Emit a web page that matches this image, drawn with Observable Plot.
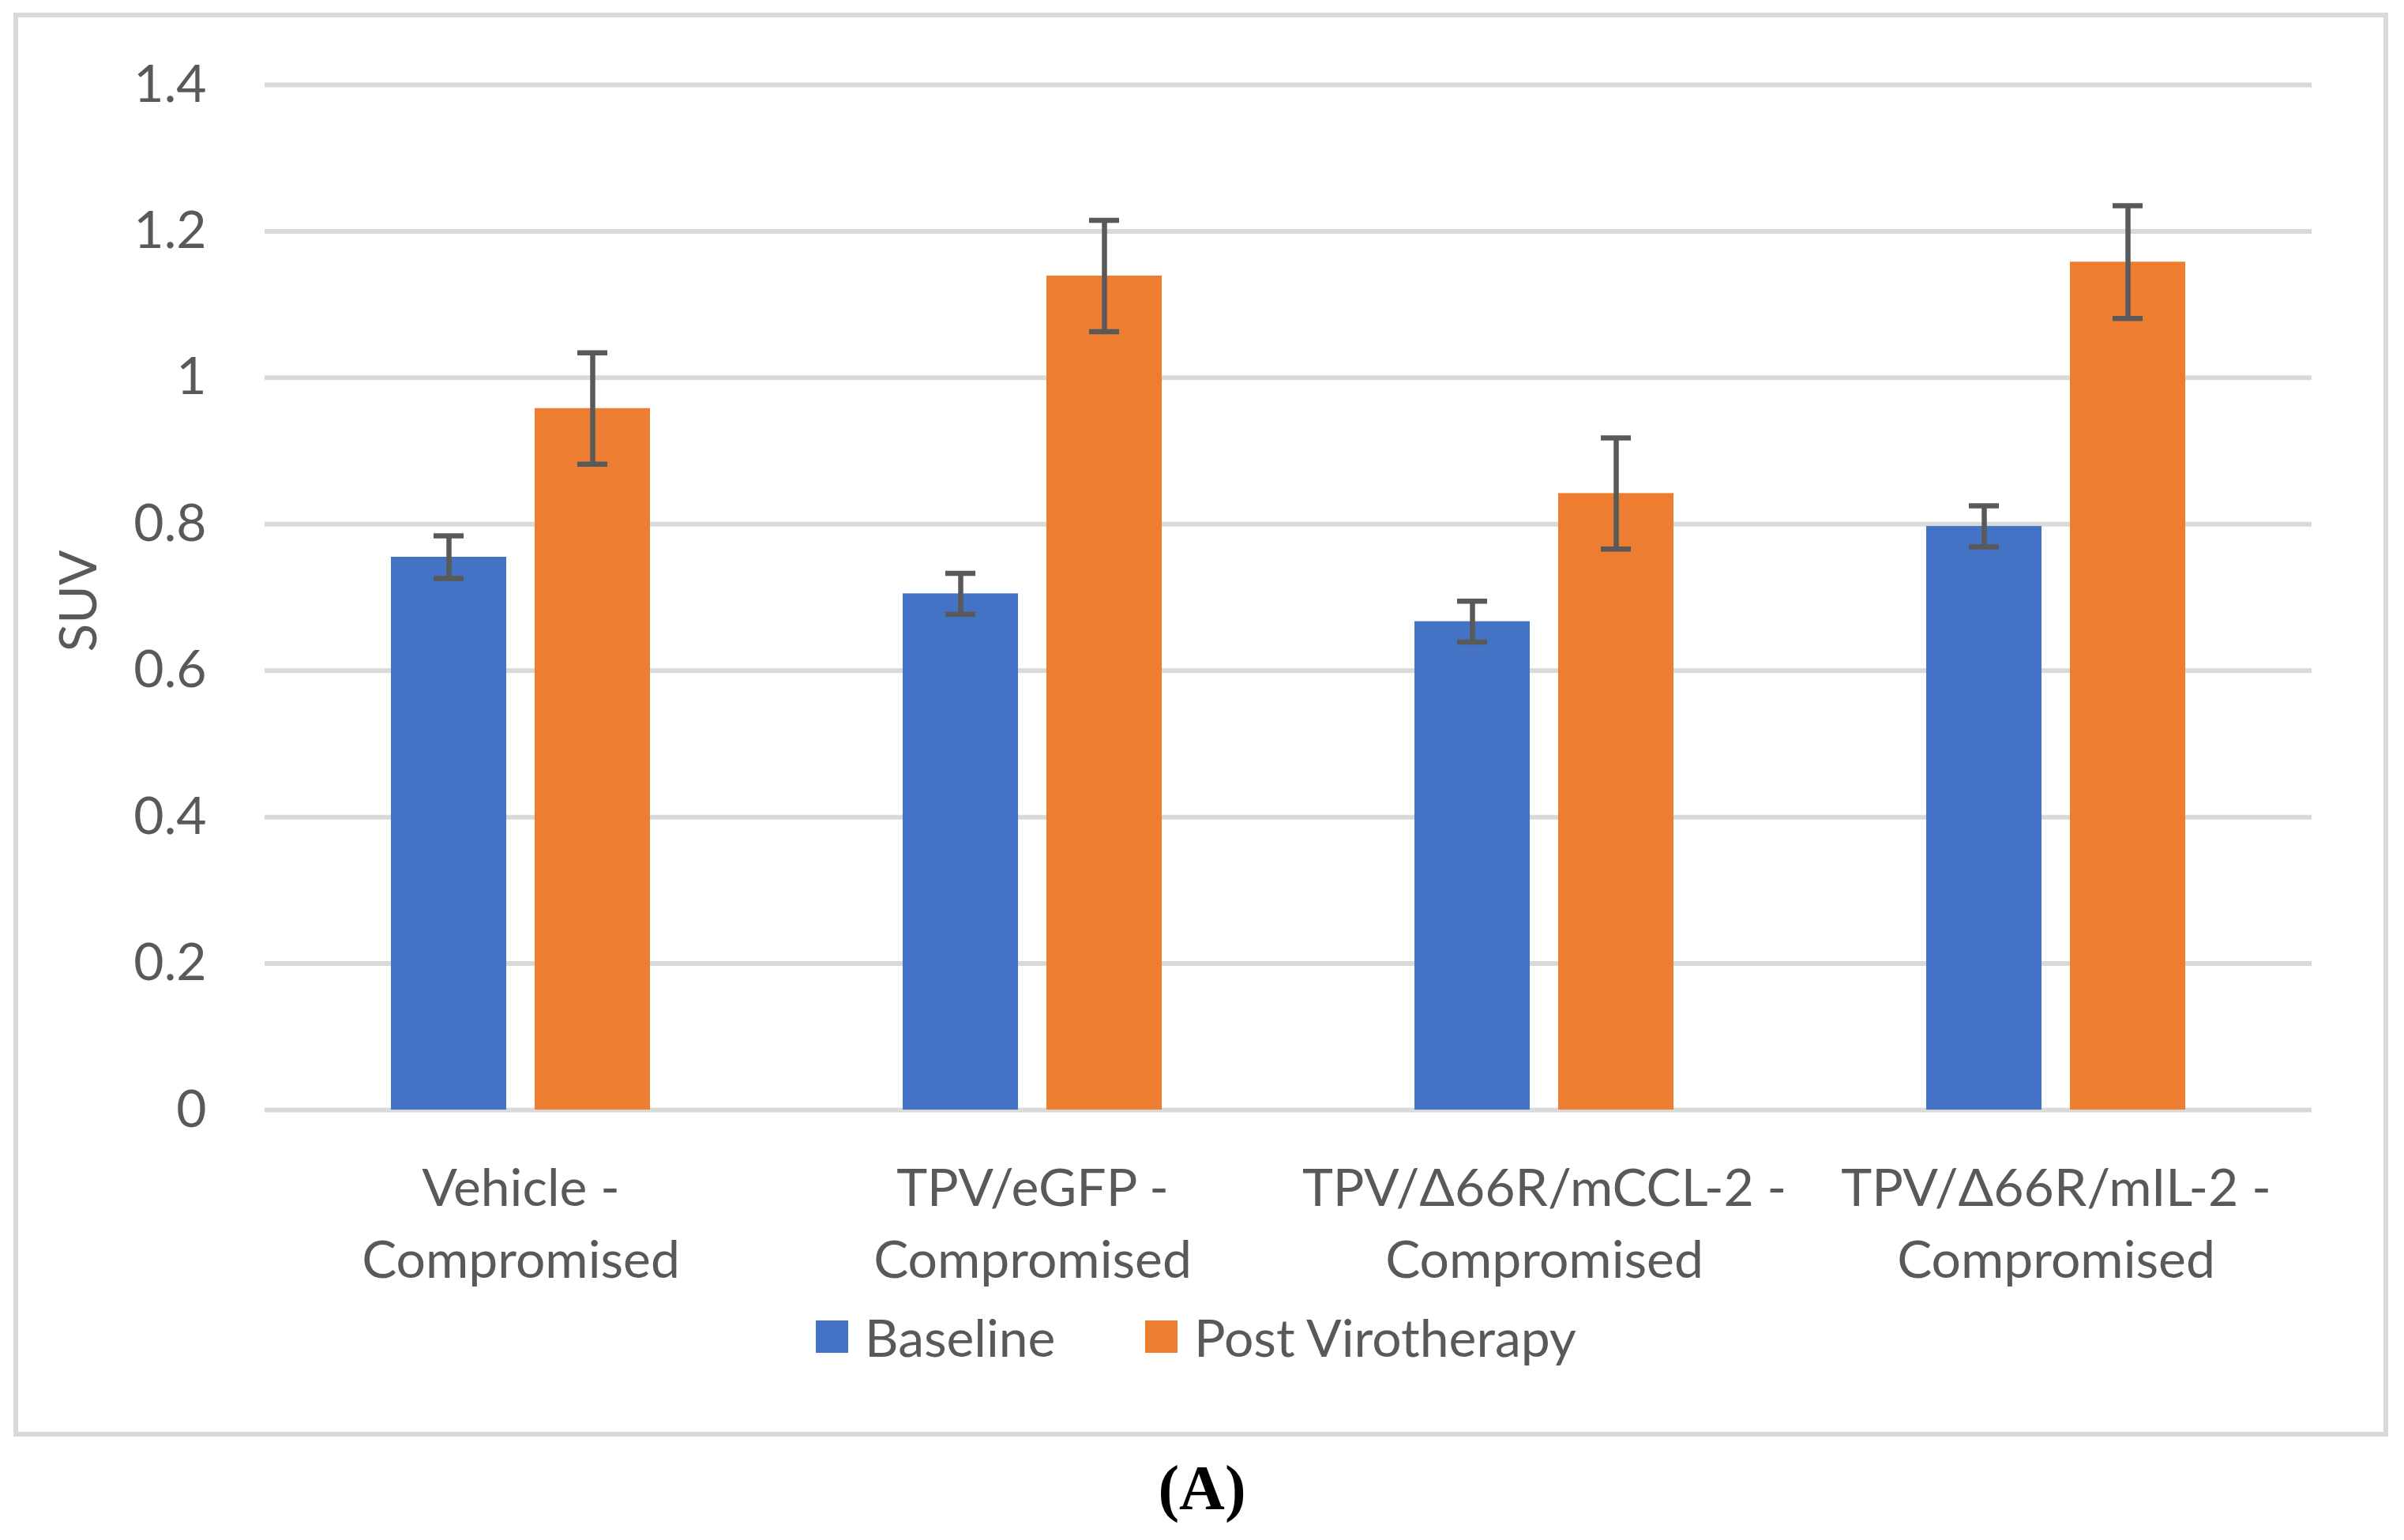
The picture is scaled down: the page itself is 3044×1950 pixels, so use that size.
<!DOCTYPE html>
<html>
<head>
<meta charset="utf-8">
<script src="https://cdn.jsdelivr.net/npm/d3@7"></script>
<script src="https://cdn.jsdelivr.net/npm/@observablehq/plot@0.6"></script>
<style>
  html, body { margin: 0; padding: 0; background: #fff; }
  body { width: 3044px; height: 1950px; position: relative; overflow: hidden; font-family: Lato, "Open Sans", sans-serif; }
  #frame { position: absolute; left: 17px; top: 16px; width: 3007px; height: 1803px; border: 6px solid #d9d9d9; box-sizing: border-box; }
  #chart { position: absolute; left: 0; top: 0; }
  #ylabel { position: absolute; left: 97px; top: 761px; transform: translate(-50%, -50%) rotate(-90deg); font-size: 66px; color: #595959; white-space: nowrap; line-height: 1; }
  .leg { position: absolute; top: 1672px; height: 41px; display: flex; align-items: center; font-size: 66px; color: #595959; white-space: nowrap; }
  .leg .sw { width: 41px; height: 41px; margin-right: 21px; }
  #caption { position: absolute; left: 0; width: 3044px; top: 1842px; text-align: center; font-family: "Liberation Serif", "DejaVu Serif", serif; font-weight: bold; font-size: 80px; line-height: 84px; color: #000; }
</style>
</head>
<body>
<div id="frame"></div>
<div id="chart"></div>
<div id="ylabel"></div>
<div id="legend"></div>
<div id="caption">(A)</div>
<script>
// ---- data ----
const categories = ["Vehicle", "TPV/eGFP", "TPV/Δ66R/mCCL-2", "TPV/Δ66R/mIL-2"];
const categoryLabels = ["Vehicle -\nCompromised", "TPV/eGFP -\nCompromised", "TPV/Δ66R/mCCL-2 -\nCompromised", "TPV/Δ66R/mIL-2 -\nCompromised"];
const series = ["Baseline", "Post Virotherapy"];
const seriesColors = ["#4472C4", "#ED7D31"];
const baseline = [0.755, 0.705, 0.667, 0.797];
const baselineErr = [0.029, 0.028, 0.028, 0.028];
const post = [0.958, 1.139, 0.842, 1.158];
const postErr = [0.076, 0.076, 0.076, 0.077];
const yTicks = [0, 0.2, 0.4, 0.6, 0.8, 1, 1.2, 1.4];
const yLabel = "SUV";

// ---- table ----
const rows = [];
categories.forEach((c, i) => {
  rows.push({category: c, series: series[0], value: baseline[i], lo: baseline[i] - baselineErr[i], hi: baseline[i] + baselineErr[i]});
  rows.push({category: c, series: series[1], value: post[i], lo: post[i] - postErr[i], hi: post[i] + postErr[i]});
});
const labelOf = new Map(categories.map((c, i) => [c, categoryLabels[i]]));

const grid = "#d9d9d9";
const ink = "#595959";

const chart = Plot.plot({
  width: 3044,
  height: 1660,
  marginLeft: 334,
  marginRight: 117,
  marginTop: 107,
  marginBottom: 255,
  style: {fontFamily: "Lato, 'Open Sans', sans-serif", fontSize: "66px", color: ink, background: "transparent", overflow: "visible"},
  fx: {domain: categories, padding: 0},
  x: {domain: series, paddingInner: 0.2, paddingOuter: 0.872, axis: null},
  y: {domain: [0, 1.4]},
  color: {domain: series, range: seriesColors},
  marks: [
    Plot.ruleY(yTicks, {stroke: grid, strokeWidth: 6}),
    Plot.barY(rows, {fx: "category", x: "series", y: "value", fill: "series"}),
    Plot.ruleX(rows, {fx: "category", x: "series", y1: "lo", y2: "hi", stroke: ink, strokeWidth: 6.5}),
    Plot.tickY(rows, {fx: "category", x: "series", y: "hi", stroke: ink, strokeWidth: 6.5, insetLeft: 54, insetRight: 54}),
    Plot.tickY(rows, {fx: "category", x: "series", y: "lo", stroke: ink, strokeWidth: 6.5, insetLeft: 54, insetRight: 54}),
    Plot.axisY({ticks: yTicks, tickFormat: d => `${d}`, tickSize: 0, tickPadding: 74, label: null, fill: ink}),
    Plot.axisFx({anchor: "bottom", tickSize: 0, tickPadding: 56, label: null, lineHeight: 1.39, fill: ink, tickFormat: d => labelOf.get(d)})
  ]
});
document.getElementById("chart").appendChild(chart);
document.getElementById("ylabel").textContent = yLabel;

// ---- legend ----
const legendLefts = [1033, 1450];
const legend = document.getElementById("legend");
series.forEach((s, i) => {
  const item = document.createElement("div");
  item.className = "leg";
  item.style.left = legendLefts[i] + "px";
  const sw = document.createElement("span");
  sw.className = "sw";
  sw.style.background = seriesColors[i];
  const tx = document.createElement("span");
  tx.textContent = s;
  item.appendChild(sw);
  item.appendChild(tx);
  legend.appendChild(item);
});
</script>
</body>
</html>
